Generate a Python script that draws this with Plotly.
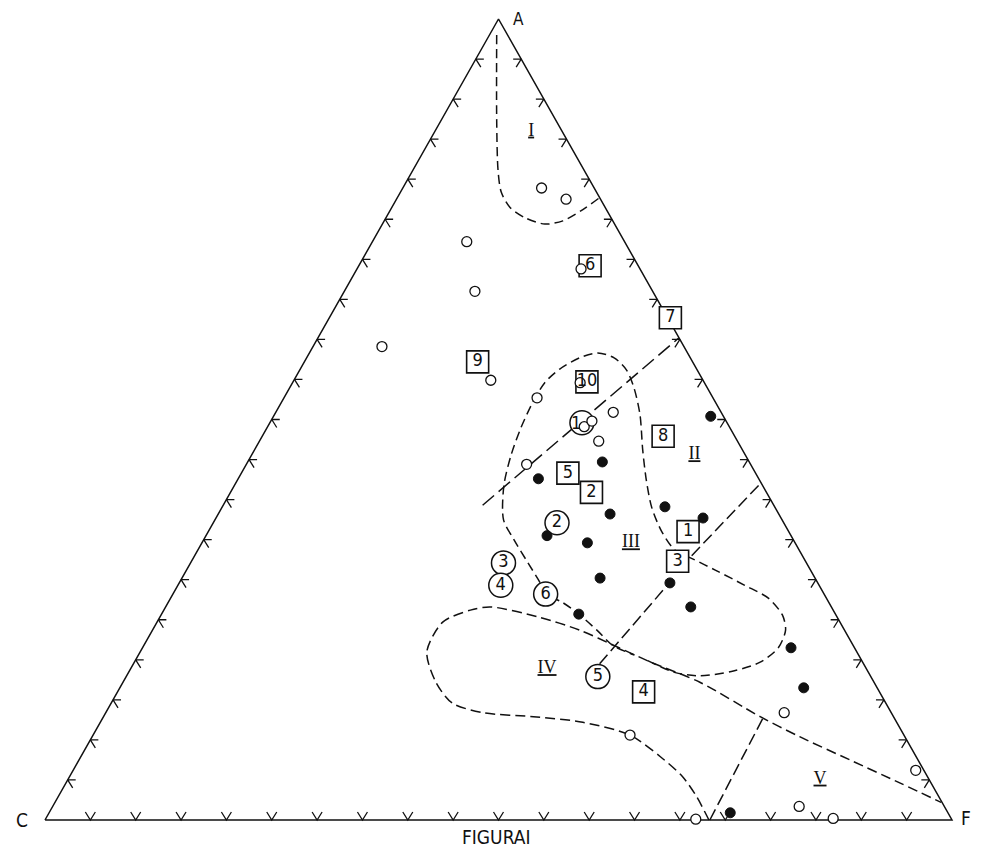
import plotly.graph_objects as go

# ---------------- data: ternary compositions in % (A, F); C = 100 - A - F ----------------
open_A = [78.9, 77.5, 72.2, 66.0, 59.1, 54.9, 68.8, 52.7, 50.9, 49.1, 49.8, 47.3, 44.4,
          13.4, 6.2, 1.7, 0.2, 0.1, 10.6, 54.6]
open_F = [15.3, 18.7, 10.4, 14.4, 7.6, 21.7, 24.7, 27.9, 37.2, 34.9, 35.4, 37.4, 30.9,
          74.8, 92.9, 82.3, 86.8, 71.7, 59.2, 31.7]

filled_A = [44.7, 42.6, 38.2, 35.5, 34.6, 30.2, 25.7, 29.6, 26.6, 39.1, 37.7, 50.4, 21.5, 16.5, 0.9]
filled_F = [39.1, 33.1, 43.2, 37.6, 42.5, 46.1, 46.0, 54.1, 57.9, 48.8, 53.7, 48.2, 71.5, 75.4, 75.1]

box_labels = ["6", "7", "9", "10", "8", "5", "2", "1", "3", "4"]
box_A = [69.2, 62.7, 57.2, 54.7, 47.9, 43.3, 40.9, 36.0, 32.3, 16.0]
box_F = [25.5, 37.6, 19.1, 32.4, 44.2, 36.0, 39.8, 52.9, 53.6, 58.0]

circ_labels = ["1", "2", "3", "4", "6", "5"]
circ_A = [49.6, 37.1, 32.1, 29.3, 28.2, 17.9]
circ_F = [34.4, 37.9, 34.5, 35.6, 41.1, 52.0]

field_labels = ["I", "II", "III", "IV", "V"]
field_A = [86.0, 45.6, 34.6, 18.9, 5.1]
field_F = [10.6, 48.8, 47.3, 45.9, 82.9]

tick_values = [5, 10, 15, 20, 25, 30, 35, 40, 45, 50, 55, 60, 65, 70, 75, 80, 85, 90, 95]

vertex_labels = ["A", "C", "F"]
caption = "FIGURAI"

# field boundaries (A %, F %)
curve_I_A = [98.0, 87.4, 81.1, 78.4, 76.5, 75.2, 74.4, 74.8, 76.2, 77.7]
curve_I_F = [0.8, 6.1, 9.4, 11.1, 13.0, 15.3, 17.9, 19.7, 21.2, 22.3]

curve_III_A = [19.9, 18.4, 18.0, 18.6, 19.7, 21.5, 23.7, 25.6, 27.7, 29.3, 31.2, 32.6, 33.7,
               36.0, 39.0, 42.4, 46.2, 50.6, 53.9, 56.2, 57.7, 58.3, 57.7, 56.3, 54.6, 52.2,
               48.9, 45.6, 41.8, 37.5, 35.0, 32.1, 29.6, 28.2, 27.2, 25.7, 23.7, 21.8, 20.6]
curve_III_F = [56.5, 60.3, 63.2, 66.6, 69.0, 70.1, 69.8, 68.5, 65.9, 62.5, 58.3, 55.1, 52.6,
               50.0, 47.4, 45.1, 42.8, 40.3, 38.0, 36.0, 33.9, 31.8, 30.1, 28.6, 27.8, 27.7,
               28.0, 28.6, 29.7, 31.8, 34.2, 37.2, 39.8, 41.1, 43.4, 46.0, 49.0, 51.7, 54.7]

curve_IV_A = [0.0, 2.9, 5.4, 7.9, 10.6, 12.2, 12.9, 13.4, 14.6, 17.2, 21.0, 24.7, 26.2, 26.6,
              25.3, 23.7, 21.6, 19.6, 17.2, 12.9, 10.4, 7.5, 4.6, 2.2]
curve_IV_F = [73.2, 70.4, 67.6, 63.9, 59.2, 53.2, 47.4, 41.6, 37.6, 34.5, 31.6, 31.5, 33.8, 35.8,
              41.9, 47.1, 52.3, 57.2, 63.6, 72.4, 78.0, 85.0, 92.0, 97.7]

line_a_A = [39.3, 60.2]
line_a_F = [28.6, 39.8]
line_b_A = [33.0, 42.1]
line_b_F = [54.8, 57.9]
line_c_A = [19.5, 29.5]
line_c_F = [51.4, 54.0]
line_d_A = [0.0, 12.7]
line_d_F = [73.3, 72.8]


# ---------------- helpers ----------------
def to_xy(A, F):
    xs = [f / 100.0 + a / 200.0 for a, f in zip(A, F)]
    ys = [a / 100.0 for a in A]
    return xs, ys


# the page body adds an 8px offset, so the figure is 8px smaller than the window
W, H = 978, 840
OFF = 8
PX_X = 1.0 / 907.0   # one pixel in x data units
PX_Y = 1.0 / 801.0   # one pixel in y data units
X0 = 45 - OFF        # figure pixel of C vertex (x)
YB = 820 - OFF       # figure pixel of base line (y)
X_RANGE = [-X0 * PX_X, (W - X0) * PX_X]
Y_RANGE = [-(H - YB) * PX_Y, YB * PX_Y]

FONT = "DejaVu Sans Condensed, Liberation Sans Narrow, Arial Narrow, Liberation Sans, sans-serif"
SERIF = "Liberation Serif, DejaVu Serif, serif"
INK = "#111111"

fig = go.Figure()

# triangle frame
tx, ty = to_xy([0, 0, 100, 0], [0, 100, 0, 0])
fig.add_trace(go.Scatter(x=tx, y=ty, mode="lines", line=dict(color=INK, width=1.5),
                         hoverinfo="skip", showlegend=False))

# chevron ticks on the three edges
cx, cy = [], []
for t in tick_values:
    # left edge C-A
    (px,), (py,) = to_xy([t], [0])
    cx += [px + 8 * PX_X, px, px + 5 * PX_X, None]
    cy += [py, py, py - 8 * PX_Y, None]
    # right edge A-F
    (px,), (py,) = to_xy([t], [100 - t])
    cx += [px - 8 * PX_X, px, px - 5 * PX_X, None]
    cy += [py, py, py - 8 * PX_Y, None]
    # base C-F
    (px,), (py,) = to_xy([0], [t])
    cx += [px - 5 * PX_X, px, px + 5 * PX_X, None]
    cy += [py + 8 * PX_Y, py, py + 8 * PX_Y, None]
fig.add_trace(go.Scatter(x=cx, y=cy, mode="lines", line=dict(color=INK, width=1.3),
                         hoverinfo="skip", showlegend=False))

# dashed field boundaries
for A, F, dash, shape in [
    (curve_I_A, curve_I_F, "9px,5px", "spline"),
    (curve_III_A, curve_III_F, "9px,5px", "spline"),
    (curve_IV_A, curve_IV_F, "10px,5px", "spline"),
    (line_a_A, line_a_F, "15px,6px", "linear"),
    (line_b_A, line_b_F, "12px,5px", "linear"),
    (line_c_A, line_c_F, "12px,5px", "linear"),
    (line_d_A, line_d_F, "12px,5px", "linear"),
]:
    x, y = to_xy(A, F)
    fig.add_trace(go.Scatter(x=x, y=y, mode="lines",
                             line=dict(color=INK, width=1.5, dash=dash, shape=shape, smoothing=0.8),
                             hoverinfo="skip", showlegend=False))

# circled numbers
x, y = to_xy(circ_A, circ_F)
fig.add_trace(go.Scatter(x=x, y=y, mode="markers",
                         marker=dict(symbol="circle", size=24, color="white",
                                     line=dict(color=INK, width=1.5)),
                         showlegend=False))

# boxed numbers
x, y = to_xy(box_A, box_F)
fig.add_trace(go.Scatter(x=x, y=y, mode="markers",
                         marker=dict(symbol="square", size=22, color="white",
                                     line=dict(color=INK, width=1.6)),
                         showlegend=False))

# open circles
x, y = to_xy(open_A, open_F)
fig.add_trace(go.Scatter(x=x, y=y, mode="markers",
                         marker=dict(symbol="circle", size=10, color="white",
                                     line=dict(color=INK, width=1.3)),
                         showlegend=False))

# filled circles
x, y = to_xy(filled_A, filled_F)
fig.add_trace(go.Scatter(x=x, y=y, mode="markers",
                         marker=dict(symbol="circle", size=10, color=INK,
                                     line=dict(color=INK, width=1)),
                         showlegend=False))

# labels in boxes
x, y = to_xy(box_A, box_F)
fig.add_trace(go.Scatter(x=x, y=y, mode="text", text=box_labels, textposition="middle center",
                         textfont=dict(family=FONT, size=18, color=INK),
                         hoverinfo="skip", showlegend=False))

# labels in circles (first one shifted by annotation)
x, y = to_xy(circ_A, circ_F)
fig.add_trace(go.Scatter(x=x[1:], y=y[1:], mode="text", text=circ_labels[1:],
                         textposition="middle center",
                         textfont=dict(family=FONT, size=18, color=INK),
                         hoverinfo="skip", showlegend=False))
fig.add_annotation(x=x[0], y=y[0], text=circ_labels[0], showarrow=False, xshift=-6,
                   font=dict(family=FONT, size=18, color=INK))

# field numerals (barred roman numerals)
x, y = to_xy(field_A, field_F)
fig.add_trace(go.Scatter(x=x, y=y, mode="text",
                         text=["<span style='text-decoration:underline'>%s</span>" % s
                               for s in field_labels],
                         textposition="middle center",
                         textfont=dict(family=SERIF, size=18, color=INK),
                         hoverinfo="skip", showlegend=False))

# vertex labels and caption
vx, vy = to_xy([100, 0, 0], [0, 0, 100])
for lab, xx, yy, xs, ys, sz in zip(vertex_labels, vx, vy, [20, -23, 14], [0, 0, 2], [17, 19, 19]):
    fig.add_annotation(x=xx, y=yy, text=lab, showarrow=False, xshift=xs, yshift=ys,
                       font=dict(family=FONT, size=sz, color=INK))
fig.add_annotation(x=0.5, y=0, text=caption, showarrow=False, xshift=-3, yshift=-17,
                   font=dict(family=FONT, size=19, color=INK))

fig.update_layout(
    width=W, height=H, autosize=False,
    margin=dict(l=0, r=0, t=0, b=0),
    paper_bgcolor="white", plot_bgcolor="white",
    xaxis=dict(range=X_RANGE, visible=False, fixedrange=True),
    yaxis=dict(range=Y_RANGE, visible=False, fixedrange=True),
    showlegend=False,
)

fig.write_html("out.html")
